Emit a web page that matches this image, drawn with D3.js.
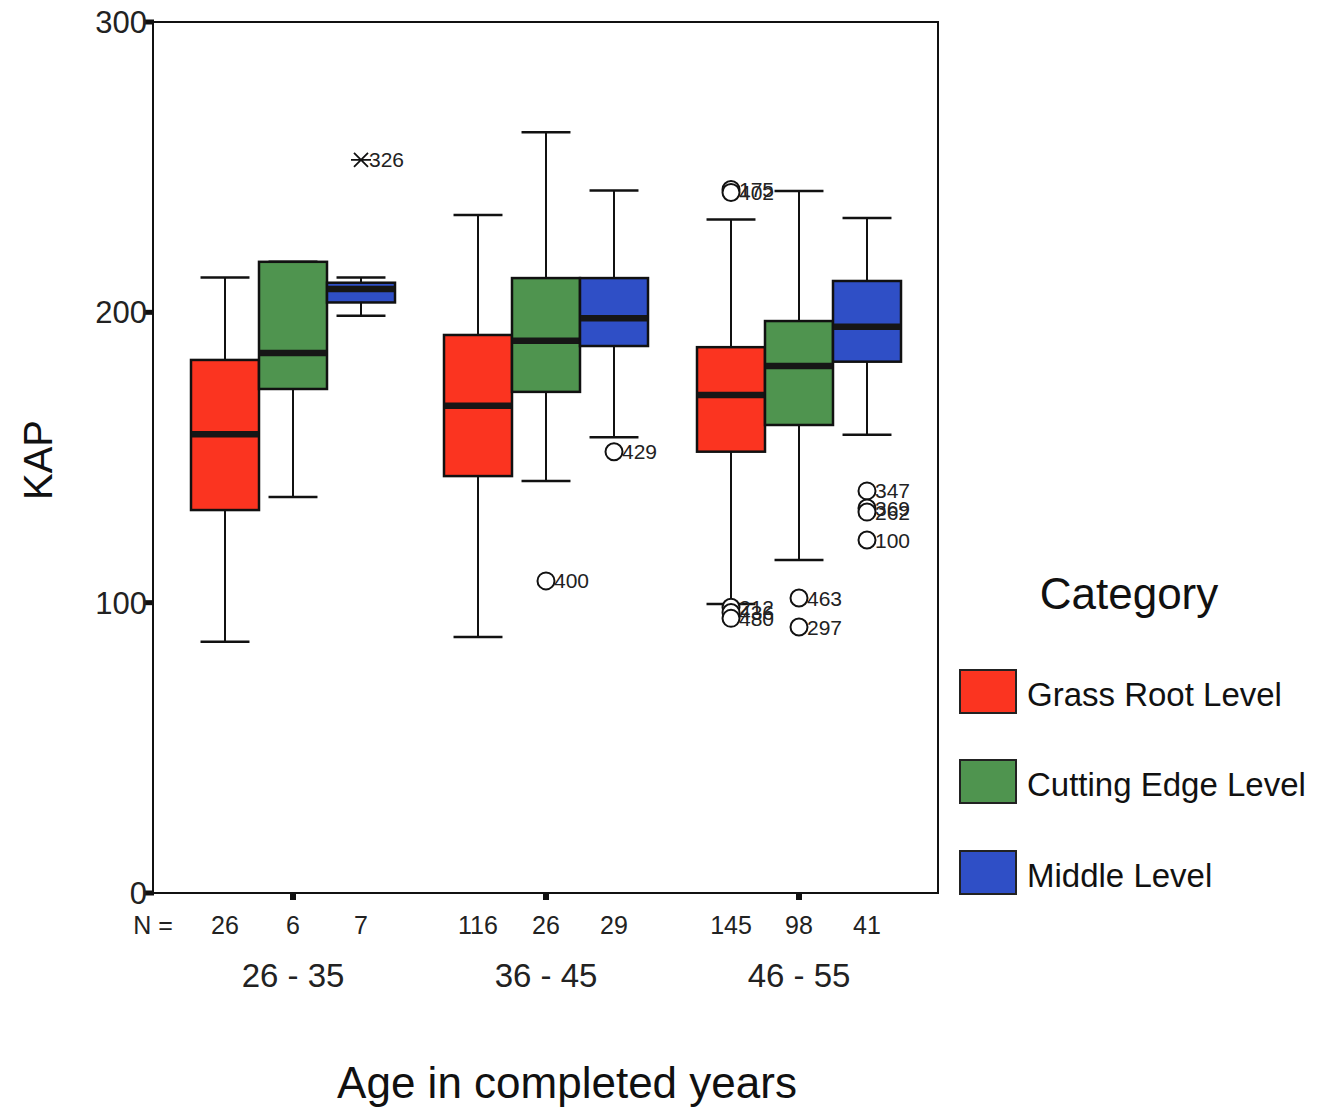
<!DOCTYPE html>
<html>
<head>
<meta charset="utf-8">
<script src="https://cdn.jsdelivr.net/npm/d3@7"></script>
<style>
  body { margin: 0; background: #fff; }
  svg { display: block; font-family: "Liberation Sans", Arial, Helvetica, sans-serif; }
</style>
</head>
<body>
<svg id="chart" width="1320" height="1110"></svg>
<script>
// Age groups and staff categories
const ageGroups = ["26 - 35", "36 - 45", "46 - 55"];
const categories = ["Grass Root Level", "Cutting Edge Level", "Middle Level"];
const categoryColors = ["#fb3420", "#4f944f", "#2f4fc6"];

// Box statistics, one row per age group, one entry per category
const nCounts     = [[26, 6, 7],        [116, 26, 29],      [145, 98, 41]];
const whiskerLow  = [[86.5, 136.4, 198.8], [88.2, 141.9, 157.0], [99.5, 114.7, 157.8]];
const q1          = [[131.9, 173.6, 203.4], [143.6, 172.6, 188.4], [152.0, 161.2, 183.0]];
const medians     = [[158.0, 186.0, 208.0], [167.8, 190.2, 198.0], [171.5, 181.5, 195.0]];
const q3          = [[183.6, 217.4, 210.2], [192.2, 211.8, 211.8], [188.0, 197.0, 210.8]];
const whiskerHigh = [[212.0, 217.4, 212.0], [233.5, 262.0, 242.0], [232.0, 241.8, 232.5]];

// Outliers: [age group index, category index, KAP value, case label, extreme?]
const outliers = [
  [0, 2, 252.5, "326", true],
  [1, 1, 107.5, "400", false],
  [1, 2, 152.0, "429", false],
  [2, 0, 242.3, "175", false],
  [2, 0, 241.3, "402", false],
  [2, 0, 98.4, "212", false],
  [2, 0, 96.6, "436", false],
  [2, 0, 94.6, "480", false],
  [2, 1, 101.6, "463", false],
  [2, 1, 91.6, "297", false],
  [2, 2, 138.5, "347", false],
  [2, 2, 132.6, "369", false],
  [2, 2, 131.2, "262", false],
  [2, 2, 121.6, "100", false]
];

const yTicks = [0, 100, 200, 300];

const svg = d3.select("#chart");

const frame = { left: 153, right: 938, top: 22, bottom: 893 };

const y = d3.scaleLinear().domain([0, 300]).range([frame.bottom, frame.top]);
const xGroup = d3.scaleBand().domain(ageGroups).range([166.5, 925.5]).padding(0);
const xCat = d3.scaleBand().domain(categories).range([-102, 102]).padding(0);
const color = d3.scaleOrdinal().domain(categories).range(categoryColors);

// Plot frame
svg.append("rect")
  .attr("x", frame.left).attr("y", frame.top)
  .attr("width", frame.right - frame.left).attr("height", frame.bottom - frame.top)
  .attr("fill", "none").attr("stroke", "#111").attr("stroke-width", 2);

// Y axis ticks and labels
const yAxis = svg.append("g");
yAxis.selectAll("rect.tick").data(yTicks).join("rect")
  .attr("class", "tick")
  .attr("x", frame.left - 8).attr("y", d => y(d) - 2.5)
  .attr("width", 9).attr("height", 5).attr("fill", "#111");
yAxis.selectAll("text").data(yTicks).join("text")
  .attr("x", frame.left - 6).attr("y", d => y(d))
  .attr("dy", "0.36em").attr("text-anchor", "end")
  .attr("font-size", 31).attr("fill", "#222")
  .text(d => d);

// X axis ticks under each age group
svg.selectAll("rect.xtick").data(ageGroups).join("rect")
  .attr("class", "xtick")
  .attr("x", d => xGroup(d) + xGroup.bandwidth() / 2 - 3)
  .attr("y", frame.bottom).attr("width", 6).attr("height", 7).attr("fill", "#111");

// Build a flat list of boxes from the arrays
const boxes = [];
ageGroups.forEach((g, gi) => {
  categories.forEach((c, ci) => {
    boxes.push({
      group: g, cat: c, n: nCounts[gi][ci],
      lo: whiskerLow[gi][ci], q1: q1[gi][ci], med: medians[gi][ci],
      q3: q3[gi][ci], hi: whiskerHigh[gi][ci]
    });
  });
});

const boxX = d => xGroup(d.group) + xGroup.bandwidth() / 2 + xCat(d.cat);
const boxW = xCat.bandwidth();
const boxC = d => boxX(d) + boxW / 2;
const capW = boxW * 0.72;

const gBox = svg.append("g").selectAll("g").data(boxes).join("g");

// Whisker stems
gBox.append("line")
  .attr("x1", boxC).attr("x2", boxC)
  .attr("y1", d => y(d.hi)).attr("y2", d => y(d.q3))
  .attr("stroke", "#111").attr("stroke-width", 2);
gBox.append("line")
  .attr("x1", boxC).attr("x2", boxC)
  .attr("y1", d => y(d.q1)).attr("y2", d => y(d.lo))
  .attr("stroke", "#111").attr("stroke-width", 2);
// Whisker caps
gBox.append("line")
  .attr("x1", d => boxC(d) - capW / 2).attr("x2", d => boxC(d) + capW / 2)
  .attr("y1", d => y(d.hi)).attr("y2", d => y(d.hi))
  .attr("stroke", "#111").attr("stroke-width", 2.5);
gBox.append("line")
  .attr("x1", d => boxC(d) - capW / 2).attr("x2", d => boxC(d) + capW / 2)
  .attr("y1", d => y(d.lo)).attr("y2", d => y(d.lo))
  .attr("stroke", "#111").attr("stroke-width", 2.5);
// Interquartile box
gBox.append("rect")
  .attr("x", boxX).attr("width", boxW)
  .attr("y", d => y(d.q3)).attr("height", d => y(d.q1) - y(d.q3))
  .attr("fill", d => color(d.cat)).attr("stroke", "#111").attr("stroke-width", 2.5);
// Median
gBox.append("line")
  .attr("x1", d => boxX(d) + 1).attr("x2", d => boxX(d) + boxW - 1)
  .attr("y1", d => y(d.med)).attr("y2", d => y(d.med))
  .attr("stroke", "#161616").attr("stroke-width", 6.5);

// Outliers and extremes
const gOut = svg.append("g").selectAll("g").data(outliers).join("g")
  .attr("transform", d => {
    const b = { group: ageGroups[d[0]], cat: categories[d[1]] };
    return `translate(${boxC(b)},${y(d[2])})`;
  });
gOut.filter(d => !d[4]).append("circle")
  .attr("r", 8.5).attr("fill", "#fff").attr("stroke", "#111").attr("stroke-width", 2);
gOut.filter(d => d[4]).append("path")
  .attr("d", "M-10,0H10M-7,-7L7,7M-7,7L7,-7")
  .attr("stroke", "#111").attr("stroke-width", 1.8).attr("fill", "none");
gOut.append("text")
  .attr("x", 8).attr("dy", "0.36em")
  .attr("font-size", 21).attr("fill", "#222")
  .text(d => d[3]);

// Case counts
svg.append("text")
  .attr("x", 153).attr("y", 934).attr("text-anchor", "middle")
  .attr("font-size", 25).attr("fill", "#222").text("N =");
svg.append("g").selectAll("text").data(boxes).join("text")
  .attr("x", boxC).attr("y", 934).attr("text-anchor", "middle")
  .attr("font-size", 25).attr("fill", "#222")
  .text(d => d.n);

// Age group labels
svg.append("g").selectAll("text").data(ageGroups).join("text")
  .attr("x", d => xGroup(d) + xGroup.bandwidth() / 2)
  .attr("y", 987).attr("text-anchor", "middle")
  .attr("font-size", 33).attr("fill", "#222")
  .text(d => d);

// Axis titles
svg.append("text")
  .attr("x", 567).attr("y", 1098).attr("text-anchor", "middle")
  .attr("font-size", 44).attr("fill", "#111")
  .text("Age in completed years");
svg.append("text")
  .attr("transform", "translate(52,460) rotate(-90)")
  .attr("text-anchor", "middle")
  .attr("font-size", 40).attr("fill", "#111")
  .text("KAP");

// Legend
const legend = svg.append("g");
legend.append("text")
  .attr("x", 1129).attr("y", 609).attr("text-anchor", "middle")
  .attr("font-size", 44).attr("fill", "#111").text("Category");
const legendTops = [670, 760, 851];
const li = legend.selectAll("g").data(categories).join("g")
  .attr("transform", (d, i) => `translate(960,${legendTops[i]})`);
li.append("rect")
  .attr("width", 56).attr("height", 43)
  .attr("fill", d => color(d)).attr("stroke", "#222").attr("stroke-width", 2);
li.append("text")
  .attr("x", 67).attr("y", 24).attr("dy", "0.36em")
  .attr("font-size", 33).attr("fill", "#111")
  .text(d => d);
</script>
</body>
</html>
